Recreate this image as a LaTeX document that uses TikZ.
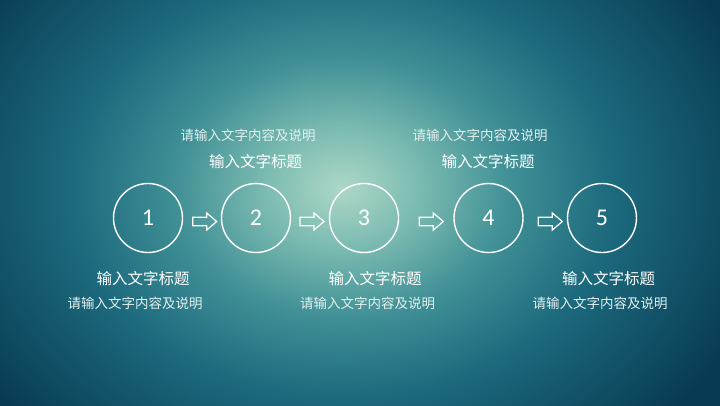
\documentclass[tikz,border=0pt]{standalone}
\usepackage{fontspec}
\newfontfamily\cjk{Noto Sans CJK SC}
\newfontfamily\numfont{Carlito}
\usetikzlibrary{calc}
\definecolor{g0}{RGB}{172,216,199}
\definecolor{g1}{RGB}{122,186,176}
\definecolor{g2}{RGB}{64,144,150}
\definecolor{g3}{RGB}{28,105,125}
\definecolor{g4}{RGB}{8,58,82}
\definecolor{desccol}{RGB}{226,240,238}
\pgfdeclareradialshading{bgglow}{\pgfpoint{0bp}{0bp}}{color(0bp)=(g0); color(4.5bp)=(g1); color(9.5bp)=(g2); color(15.5bp)=(g3); color(25bp)=(g4); color(50bp)=(g4)}
\tikzset{
  stepcircle/.style={circle, draw=white, line width=1.4pt, minimum size=69pt, inner sep=0pt, text=white, font=\numfont\fontsize{24}{24}\selectfont},
  flowarrow/.style={draw=white, line width=1.2pt, line join=miter},
  titletext/.style={text=white, inner sep=0pt, font=\cjk\fontsize{15.5}{18}\selectfont},
  desctext/.style={text=desccol, inner sep=0pt, font=\cjk\fontsize{13.5}{16}\selectfont}
}
\newcommand{\flowarrowat}[1]{\draw[flowarrow] ($(#1)+(-12,-4.3)$) -- ++(14,0) -- ++(0,-4.2) -- ++(10,8.5) -- ++(-10,8.5) -- ++(0,-4.2) -- ++(-14,0) -- cycle;}
\begin{document}
\begin{tikzpicture}[x=1pt,y=-1pt]
\useasboundingbox (0,0) rectangle (720,405);
\begin{scope}
\clip (0,0) rectangle (720,405);
\shade[shading=bgglow] (342-440,188-340) rectangle (342+440,188+340);
\end{scope}
% circles
\node[stepcircle] (c1) at (148,218) {1};
\node[stepcircle] (c2) at (256,218) {2};
\node[stepcircle] (c3) at (364,218) {3};
\node[stepcircle] (c4) at (488.5,218) {4};
\node[stepcircle] (c5) at (602,218) {5};
% arrows
\coordinate (a1) at (204.7,221.5);
\coordinate (a2) at (312,221.5);
\coordinate (a3) at (431.3,221.5);
\coordinate (a4) at (550.3,221.5);
\flowarrowat{a1}
\flowarrowat{a2}
\flowarrowat{a3}
\flowarrowat{a4}
% top texts
\node[desctext] (d2) at (248,135) {请输入文字内容及说明};
\node[titletext] (t2) at (255.5,161.5) {输入文字标题};
\node[desctext] (d4) at (480,135) {请输入文字内容及说明};
\node[titletext] (t4) at (488,161.5) {输入文字标题};
% bottom texts
\node[titletext] (t1) at (143,279) {输入文字标题};
\node[desctext] (d1) at (135,303) {请输入文字内容及说明};
\node[titletext] (t3) at (375,279) {输入文字标题};
\node[desctext] (d3) at (367.5,303) {请输入文字内容及说明};
\node[titletext] (t5) at (608.5,279) {输入文字标题};
\node[desctext] (d5) at (600,303) {请输入文字内容及说明};
\end{tikzpicture}
\end{document}
